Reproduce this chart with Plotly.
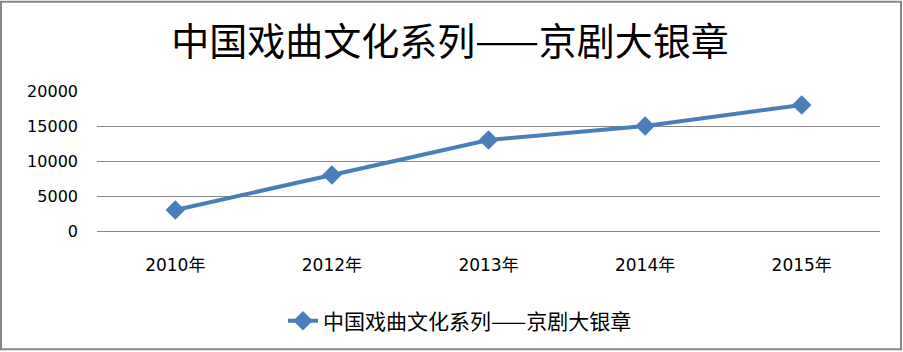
import plotly.graph_objects as go

categories = ["2010年", "2012年", "2013年", "2014年", "2015年"]
values = [3000, 8000, 13000, 15000, 18000]
series_name = "中国戏曲文化系列——京剧大银章"
title_text = "中国戏曲文化系列——京剧大银章"
y_ticks = [0, 5000, 10000, 15000, 20000]
y_tick_text = ["0", "5000", "10000", "15000", "20000"]

fig = go.Figure()
fig.add_trace(go.Scatter(
    x=categories, y=values, name=series_name,
    mode="lines+markers",
    line=dict(color="#4A7EBB", width=4),
    marker=dict(symbol="diamond", size=15, color="#4A7EBB"),
    showlegend=True,
))

L, R, T, B = 97, 23, 91, 120
W, H = 903, 352
pw, ph = W - L - R, H - T - B

def px_x(p):
    return (p - L) / pw

def px_y(p):
    return (H - B - p) / ph

fig.update_layout(
    width=W, height=H,
    margin=dict(l=L, r=R, t=T, b=B, pad=0),
    paper_bgcolor="white", plot_bgcolor="white",
    title=dict(text=title_text, x=px_x(450), xref="paper", xanchor="center",
               y=1 - 42 / H, yanchor="middle",
               font=dict(family="Noto Sans CJK SC", size=38, color="black")),
    xaxis=dict(type="category", range=[-0.5, len(categories) - 0.5], showgrid=False,
               showline=False, zeroline=False,
               ticks="", tickfont=dict(family="DejaVu Sans, Noto Sans CJK SC", size=17, color="black"),
               ticklabelstandoff=22),
    yaxis=dict(range=[0, 20000], tickvals=y_ticks, ticktext=y_tick_text, showgrid=True,
               gridcolor="#868686", gridwidth=1,
               zeroline=True, zerolinecolor="#868686", zerolinewidth=1, showline=False,
               ticks="", tickfont=dict(family="DejaVu Sans", size=16, color="black"),
               ticklabelstandoff=18),
    legend=dict(orientation="h", x=px_x(460), xanchor="center", y=px_y(321), yanchor="middle",
                font=dict(family="Noto Sans CJK SC", size=21, color="black"),
                bgcolor="rgba(0,0,0,0)"),
    shapes=[dict(type="rect", xref="paper", yref="paper",
                 x0=px_x(1), x1=px_x(901), y0=px_y(351), y1=px_y(1),
                 line=dict(color="#878787", width=2), fillcolor="rgba(0,0,0,0)", layer="above")],
)

fig.write_html("out.html")
